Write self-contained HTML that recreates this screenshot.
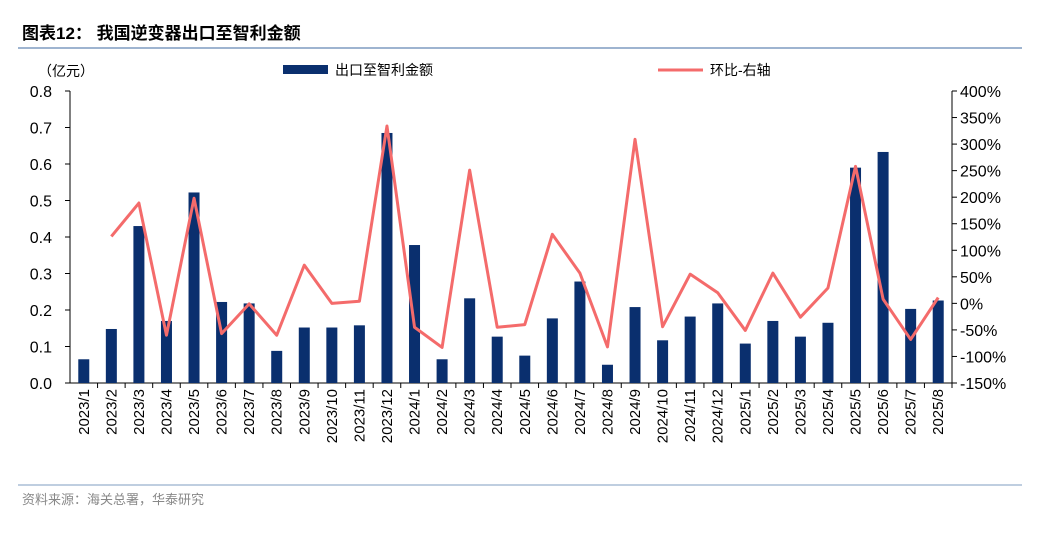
<!DOCTYPE html>
<html><head><meta charset="utf-8"><style>
body{margin:0;background:#fff;width:1038px;height:531px;overflow:hidden;font-family:"Liberation Sans","Noto Sans CJK SC",sans-serif}
</style></head><body>
<svg id="c" width="1038" height="531" xmlns="http://www.w3.org/2000/svg">
<text x="22" y="39" font-size="17" font-weight="bold" font-family="Liberation Sans,Noto Sans CJK SC,sans-serif" fill="#000">图表12：  我国逆变器出口至智利金额</text>
<line x1="18" y1="48" x2="1022" y2="48" stroke="#7f9cc0" stroke-width="1.5"/>
<line x1="18" y1="485" x2="1022" y2="485" stroke="#7f9cc0" stroke-width="1"/>
<text x="22" y="504" font-size="13" fill="#888" font-family="Liberation Sans,Noto Sans CJK SC,sans-serif">资料来源：海关总署，华泰研究</text>
<text x="38" y="76" font-size="14" fill="#000" font-family="Liberation Sans,Noto Sans CJK SC,sans-serif">（亿元）</text>
<rect x="283" y="65" width="45" height="9" fill="#0a2f6e"/>
<text x="335" y="75" font-size="14" font-family="Liberation Sans,Noto Sans CJK SC,sans-serif">出口至智利金额</text>
<line x1="658" y1="70" x2="703" y2="70" stroke="#f46b6b" stroke-width="3"/>
<text x="710" y="75" font-size="14" font-family="Liberation Sans,Noto Sans CJK SC,sans-serif">环比-右轴</text>
<g id="g"></g>
</svg>
<script>
const categories=["2023/1","2023/2","2023/3","2023/4","2023/5","2023/6","2023/7","2023/8","2023/9","2023/10","2023/11","2023/12","2024/1","2024/2","2024/3","2024/4","2024/5","2024/6","2024/7","2024/8","2024/9","2024/10","2024/11","2024/12","2025/1","2025/2","2025/3","2025/4","2025/5","2025/6","2025/7","2025/8"];
const amounts=[0.065,0.148,0.43,0.17,0.522,0.222,0.218,0.088,0.152,0.152,0.158,0.685,0.378,0.065,0.232,0.127,0.075,0.177,0.278,0.05,0.208,0.117,0.182,0.218,0.108,0.17,0.127,0.165,0.59,0.633,0.203,0.226];
const mom=[null,126,189,-60,198,-57,-1,-60,72,0,4,334,-45,-83,251,-45,-40,130,57,-82,309,-44,55,20,-51,57,-26,29,258,8,-68,11];
const leftTicks=[0,0.1,0.2,0.3,0.4,0.5,0.6,0.7,0.8];
const rightTicks=[-150,-100,-50,0,50,100,150,200,250,300,350,400];
const NS="http://www.w3.org/2000/svg",g=document.getElementById('g');
const X0=70,X1=952,T=91,B=383,step=(X1-X0)/categories.length;
const xc=i=>X0+step*(i+0.5);
const yl=v=>B-(v/0.8)*(B-T);
const yr=v=>B-((v+150)/550)*(B-T);
function mk(t,a){const e=document.createElementNS(NS,t);for(const k in a)e.setAttribute(k,a[k]);g.appendChild(e);return e;}
let e;
e=mk('line',{x1:X0,y1:T,x2:X0,y2:B,stroke:'#000'});


e=mk('line',{x1:X1,y1:T,x2:X1,y2:B,stroke:'#000'});


e=mk('line',{x1:X0,y1:B,x2:X1,y2:B,stroke:'#000'});


leftTicks.forEach(v=>{
 e=mk('line',{x1:X0-5,y1:yl(v),x2:X0,y2:yl(v),stroke:'#000'});
 
 
 e=mk('text',{x:X0-18,y:yl(v)+6,'font-size':16,'text-anchor':'end'});e.textContent=v.toFixed(1);
 
 
});
rightTicks.forEach(v=>{
 e=mk('line',{x1:X1,y1:yr(v),x2:X1+5,y2:yr(v),stroke:'#000'});
 
 
 e=mk('text',{x:X1+8,y:yr(v)+6,'font-size':16});e.textContent=v+'%';
 
 
});
categories.forEach((c,i)=>{
 e=mk('line',{x1:X0+step*(i+1),y1:B,x2:X0+step*(i+1),y2:B+5,stroke:'#000'});
 
 
 const bw=11;
 e=mk('rect',{x:xc(i)-bw/2,y:yl(amounts[i]),width:bw,height:B-yl(amounts[i]),fill:'#0a2f6e'});
 
 
 e=mk('text',{x:0,y:0,'font-size':15,'text-anchor':'end',transform:`translate(${xc(i)+5},${B+6}) rotate(-90)`});e.textContent=c;
 
 
});
const pts=mom.map((v,i)=>v==null?null:[xc(i),yr(v)]).filter(p=>p).map(p=>p.join(',')).join(' ');
e=mk('polyline',{points:pts,fill:'none',stroke:'#f46b6b','stroke-width':3,'stroke-linejoin':'round'});


</script>
</body></html>
